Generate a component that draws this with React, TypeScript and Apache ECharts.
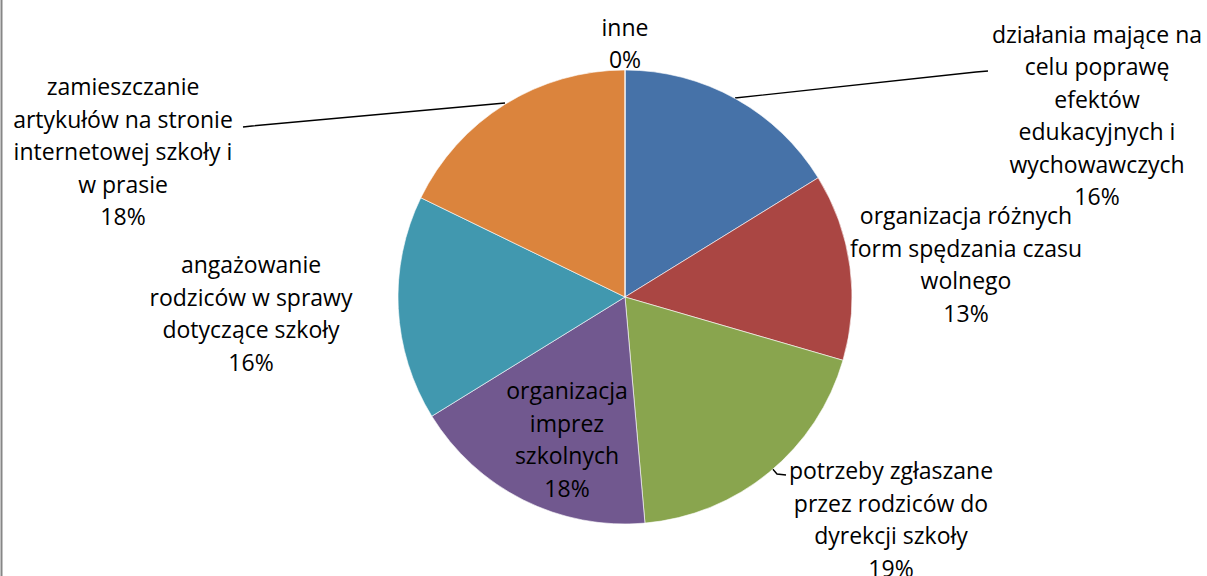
import React, { useEffect, useRef } from "react";
import * as echarts from "echarts";

const categories = [
  "działania mające na\ncelu poprawę\nefektów\nedukacyjnych i\nwychowawczych",
  "organizacja różnych\nform spędzania czasu\nwolnego",
  "potrzeby zgłaszane\nprzez rodziców do\ndyrekcji szkoły",
  "organizacja\nimprez\nszkolnych",
  "angażowanie\nrodziców w sprawy\ndotyczące szkoły",
  "zamieszczanie\nartykułów na stronie\ninternetowej szkoły i\nw prasie",
  "inne",
];
const values = [16.2, 13.3, 19.1, 17.6, 16.0, 17.8, 0];
const colors = ["#4672A8", "#AA4643", "#89A54E", "#71588F", "#4198AF", "#DB843D", "#4F81BD"];

// label layout (centre of each label block) and leader lines
const labelCenters: number[][] = [
  [1097, 115],
  [966, 264],
  [891, 519],
  [567, 439],
  [251, 313],
  [123, 151],
  [625, 43],
];
const leaderLines: (number[][] | null)[] = [
  [[735, 98], [976, 72], [988, 71]],
  null,
  [[771, 467], [777, 474], [786, 475]],
  null,
  null,
  [[505, 103], [252, 126], [243, 127]],
  null,
];

export default function App() {
  const ref = useRef<HTMLDivElement>(null);
  useEffect(() => {
    document.body.style.margin = "0";
    const chart = echarts.init(ref.current!, null, { renderer: "svg" });
    chart.setOption({
      animation: false,
      backgroundColor: "#ffffff",
      graphic: [
        {
          type: "line",
          shape: { x1: 1.5, y1: 0, x2: 1.5, y2: 576 },
          style: { stroke: "#868686", lineWidth: 2 },
        },
      ],
      series: [
        {
          type: "pie",
          center: [625, 297],
          radius: 227,
          startAngle: 90,
          clockwise: true,
          percentPrecision: 0,
          avoidLabelOverlap: false,
          itemStyle: { borderColor: "#ffffff", borderWidth: 0.6 },
          label: {
            show: true,
            position: "outside",
            color: "#000",
            fontFamily: "Open Sans",
            fontSize: 23,
            lineHeight: 32.5,
            align: "center",
            formatter: "{b}\n{d}%",
          },
          labelLine: { show: true, lineStyle: { color: "#000", width: 1.4 } },
          labelLayout: (p: any) => {
            const c = labelCenters[p.dataIndex];
            const res: any = { x: c[0], y: c[1], align: "center", verticalAlign: "middle" };
            const ll = leaderLines[p.dataIndex];
            if (ll) res.labelLinePoints = ll;
            return res;
          },
          data: categories.map((name, i) => ({
            name,
            value: values[i],
            itemStyle: { color: colors[i] },
            labelLine: { show: !!leaderLines[i] },
          })),
        },
      ],
    });
    return () => chart.dispose();
  }, []);
  return <div ref={ref} style={{ width: 1207, height: 576 }} />;
}
